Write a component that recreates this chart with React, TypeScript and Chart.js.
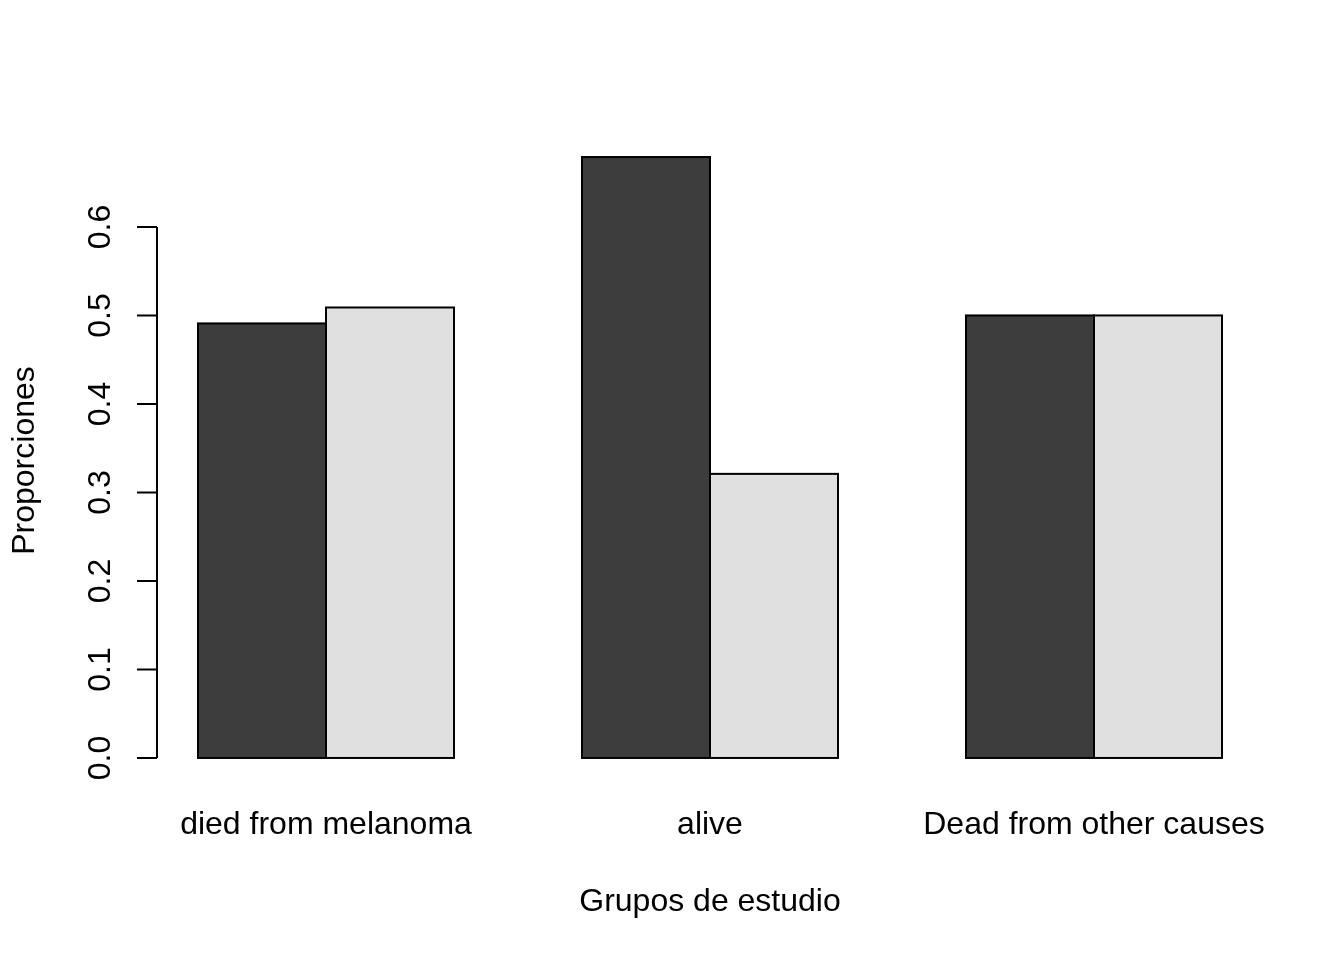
import React, { useEffect, useRef } from "react";
import { Chart, registerables } from "chart.js";

Chart.register(...registerables);

const categories = ["died from melanoma", "alive", "Dead from other causes"];
const seriesFemale = [0.491, 0.679, 0.5];
const seriesMale = [0.509, 0.321, 0.5];
const yTicks = [0, 0.1, 0.2, 0.3, 0.4, 0.5, 0.6];
const yTickLabels = ["0.0", "0.1", "0.2", "0.3", "0.4", "0.5", "0.6"];
const xTitle = "Grupos de estudio";
const yTitle = "Proporciones";

const FONT = "'Liberation Sans', Arial, Helvetica, sans-serif";

const rPlot = {
  id: "rPlot",
  afterDatasetsDraw(chart: any) {
    const ctx = chart.ctx;
    const xs = chart.scales.x;
    const ys = chart.scales.y;
    ctx.save();
    // bar outlines (centred on edges like R)
    ctx.strokeStyle = "#000";
    ctx.lineWidth = 2;
    chart.data.datasets.forEach((_: any, i: number) => {
      const meta = chart.getDatasetMeta(i);
      meta.data.forEach((el: any) => {
        const p = el.getProps(["x", "y", "base", "width"], true);
        const left = p.x - p.width / 2;
        ctx.strokeRect(left, Math.min(p.y, p.base), p.width, Math.abs(p.base - p.y));
      });
    });
    // y axis
    const axX = chart.chartArea.left + 23;
    const y0 = ys.getPixelForValue(yTicks[0]);
    const y1 = ys.getPixelForValue(yTicks[yTicks.length - 1]);
    ctx.beginPath();
    ctx.moveTo(axX, y0);
    ctx.lineTo(axX, y1);
    yTicks.forEach((v) => {
      const y = ys.getPixelForValue(v);
      ctx.moveTo(axX, y);
      ctx.lineTo(axX - 20, y);
    });
    ctx.stroke();
    ctx.fillStyle = "#000";
    ctx.font = `32px ${FONT}`;
    ctx.textAlign = "center";
    ctx.textBaseline = "middle";
    yTicks.forEach((v, i) => {
      const y = ys.getPixelForValue(v);
      ctx.save();
      ctx.translate(101, y);
      ctx.rotate(-Math.PI / 2);
      ctx.fillText(yTickLabels[i], 0, 0);
      ctx.restore();
    });
    // category labels
    categories.forEach((c, i) => {
      ctx.fillText(c, xs.getPixelForValue(i), 825);
    });
    // titles
    const plotLeft = axX;
    const plotRight = chart.chartArea.right - 23;
    ctx.fillText(xTitle, (plotLeft + plotRight) / 2, 902);
    ctx.save();
    ctx.translate(25, (chart.chartArea.top + chart.chartArea.bottom) / 2 + 3);
    ctx.rotate(-Math.PI / 2);
    ctx.fillText(yTitle, 0, 0);
    ctx.restore();
    ctx.restore();
  },
};

export default function App() {
  const ref = useRef<HTMLCanvasElement>(null);
  useEffect(() => {
    if (!ref.current) return;
    const ymax = Math.max(...seriesFemale, ...seriesMale);
    const chart = new Chart(ref.current, {
      type: "bar",
      data: {
        labels: categories,
        datasets: [
          {
            data: seriesFemale,
            backgroundColor: "#3d3d3d",
            borderWidth: 0,
            barPercentage: 1,
            categoryPercentage: 2 / 3,
          },
          {
            data: seriesMale,
            backgroundColor: "#e0e0e0",
            borderWidth: 0,
            barPercentage: 1,
            categoryPercentage: 2 / 3,
          },
        ],
      },
      options: {
        responsive: false,
        animation: false,
        layout: { padding: { left: 134, right: 58, top: 133, bottom: 178 } },
        plugins: { legend: { display: false }, tooltip: { enabled: false } },
        scales: {
          x: { display: false, offset: true },
          y: { display: false, min: -0.04 * ymax, max: 1.04 * ymax },
        },
      },
      plugins: [rPlot],
    });
    return () => chart.destroy();
  }, []);
  return (
    <div style={{ position: "absolute", top: 0, left: 0, width: 1344, height: 960, background: "#fff" }}>
      <canvas ref={ref} width={1344} height={960} style={{ width: 1344, height: 960 }} />
    </div>
  );
}
